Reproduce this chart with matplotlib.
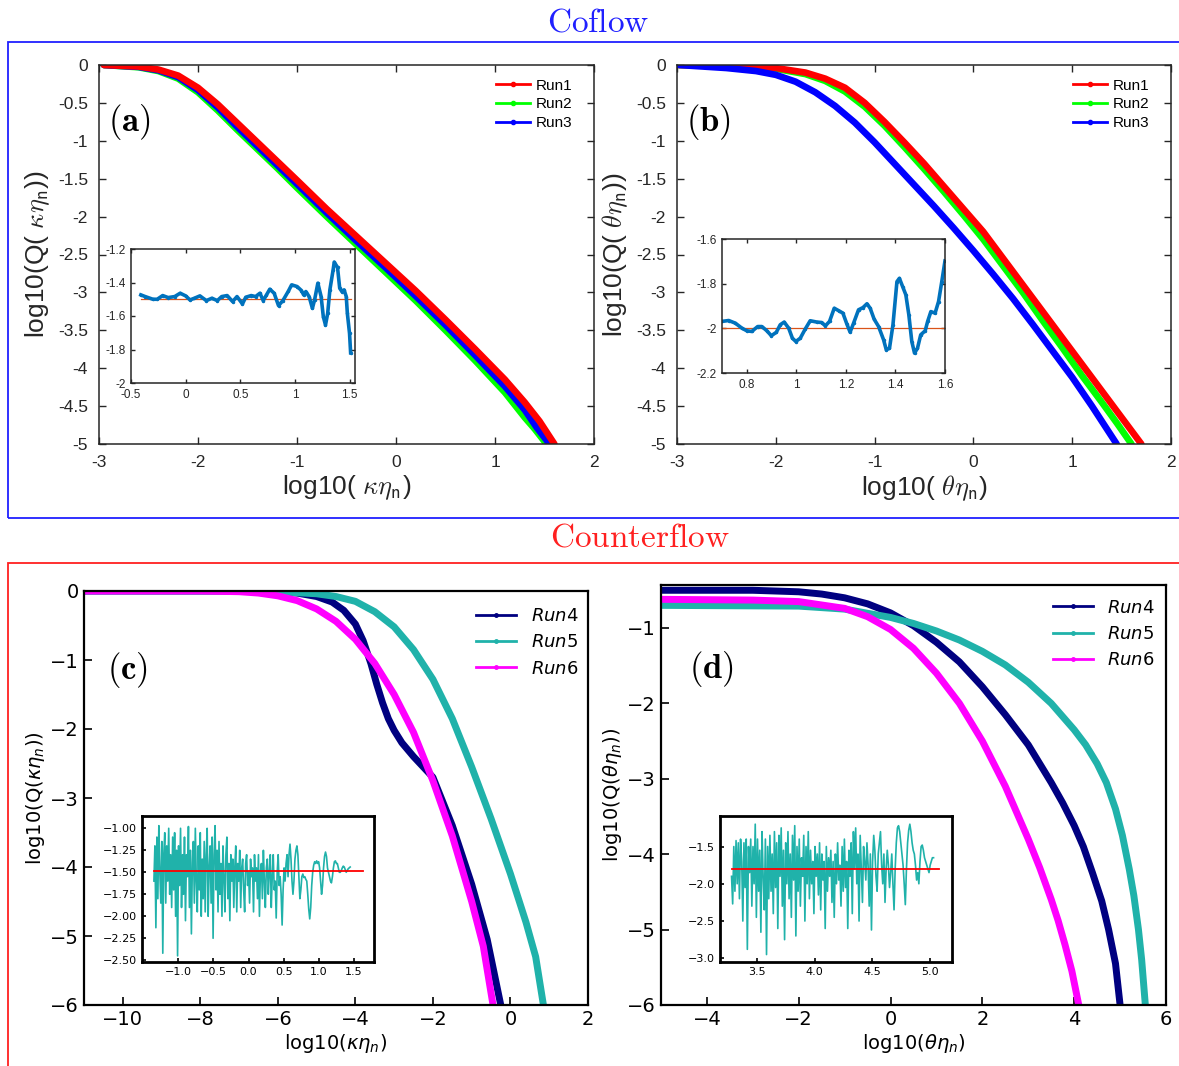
import numpy as np
import matplotlib.pyplot as plt
from matplotlib.patches import Rectangle
from matplotlib.lines import Line2D
from matplotlib.ticker import FuncFormatter

# ---------------- data ----------------
# panel (a): log10(Q(k eta)) vs log10(k eta)
a_x = [-2.95, -2.6, -2.4, -2.2, -2.0, -1.8, -1.6, -1.4, -1.2, -1.0, -0.7, -0.4, -0.1, 0.2, 0.5, 0.8, 1.1, 1.3]
a_run1 = [0, -0.02, -0.06, -0.14, -0.3, -0.52, -0.77, -1.02, -1.27, -1.52, -1.9, -2.26, -2.62, -2.98, -3.36, -3.75, -4.15, -4.45]
a_run2 = [0, -0.03, -0.08, -0.18, -0.36, -0.6, -0.86, -1.11, -1.36, -1.62, -2.0, -2.37, -2.74, -3.11, -3.5, -3.9, -4.32, -4.65]
a_run3 = [0, -0.025, -0.07, -0.16, -0.33, -0.56, -0.82, -1.07, -1.32, -1.57, -1.95, -2.32, -2.68, -3.05, -3.43, -3.83, -4.24, -4.55]
a_end_x = [[1.45, 1.6], [1.4, 1.52], [1.42, 1.55]]
a_end_y = [[-4.7, -5.0], [-4.8, -5.0], [-4.78, -5.0]]

# panel (b): log10(Q(theta eta)) vs log10(theta eta)
b_x12 = [-2.98, -2.5, -2.0, -1.7, -1.5, -1.3, -1.1, -0.9, -0.7, -0.5, -0.3, -0.1, 0.1, 0.3, 0.5, 0.7, 0.9, 1.1, 1.3]
b_run1 = [0, -0.01, -0.04, -0.1, -0.18, -0.3, -0.5, -0.75, -1.02, -1.3, -1.6, -1.9, -2.2, -2.55, -2.9, -3.25, -3.6, -3.95, -4.3]
b_run2 = [0, -0.015, -0.05, -0.12, -0.21, -0.35, -0.55, -0.8, -1.08, -1.37, -1.67, -1.98, -2.3, -2.65, -3.0, -3.37, -3.73, -4.1, -4.45]
b_end1_x, b_end1_y = [1.5, 1.7], [-4.65, -5.0]
b_end2_x, b_end2_y = [1.45, 1.6], [-4.72, -5.0]
b_x3 = [-2.98, -2.5, -2.2, -2.0, -1.8, -1.6, -1.4, -1.2, -1.0, -0.8, -0.6, -0.4, -0.2, 0.0, 0.2, 0.4, 0.6, 0.8, 1.0, 1.2, 1.45]
b_run3 = [0, -0.04, -0.08, -0.13, -0.22, -0.36, -0.54, -0.76, -1.02, -1.3, -1.58, -1.86, -2.15, -2.45, -2.76, -3.08, -3.42, -3.77, -4.12, -4.5, -5.0]

# inset (a)
ia_x = [-0.41, -0.37, -0.30, -0.26, -0.21, -0.16, -0.10, -0.05, 0.0, 0.04, 0.08, 0.13, 0.19, 0.24, 0.29, 0.33,
        0.38, 0.43, 0.47, 0.52, 0.55, 0.60, 0.64, 0.68, 0.71, 0.74, 0.77, 0.81, 0.85, 0.89, 0.94, 0.97, 1.02,
        1.06, 1.08, 1.10, 1.13, 1.16, 1.18, 1.21, 1.24, 1.26, 1.28, 1.30, 1.32, 1.35, 1.36, 1.39, 1.41, 1.43,
        1.45, 1.47, 1.48, 1.50, 1.51]
ia_y = [-1.474, -1.484, -1.50, -1.50, -1.478, -1.49, -1.484, -1.464, -1.48, -1.504, -1.494, -1.48, -1.508,
        -1.494, -1.508, -1.484, -1.478, -1.514, -1.484, -1.528, -1.488, -1.478, -1.484, -1.464, -1.508, -1.474,
        -1.44, -1.464, -1.538, -1.508, -1.452, -1.414, -1.424, -1.448, -1.474, -1.454, -1.484, -1.554, -1.504,
        -1.404, -1.484, -1.604, -1.654, -1.584, -1.444, -1.324, -1.278, -1.31, -1.434, -1.454, -1.444, -1.484,
        -1.584, -1.704, -1.82]
ia_ref = -1.5

# inset (b)
ib_x = [0.70, 0.727, 0.754, 0.78, 0.80, 0.82, 0.844, 0.861, 0.881, 0.899, 0.919, 0.935, 0.951, 0.969, 0.984,
        0.998, 1.016, 1.036, 1.056, 1.083, 1.103, 1.117, 1.134, 1.153, 1.171, 1.188, 1.204, 1.217, 1.231, 1.251,
        1.269, 1.285, 1.298, 1.314, 1.332, 1.352, 1.363, 1.376, 1.39, 1.406, 1.416, 1.429, 1.442, 1.454, 1.466,
        1.477, 1.489, 1.502, 1.52, 1.53, 1.543, 1.56, 1.574, 1.587, 1.60]
ib_y = [-1.969, -1.965, -1.977, -1.999, -2.011, -2.014, -1.992, -1.992, -2.011, -2.033, -2.018, -1.984, -1.972,
        -1.999, -2.044, -2.059, -2.044, -2.003, -1.966, -1.972, -1.974, -1.989, -1.969, -1.910, -1.921, -1.932,
        -1.981, -2.017, -1.977, -1.917, -1.907, -1.890, -1.910, -1.959, -1.992, -2.051, -2.096, -2.089, -1.984,
        -1.791, -1.776, -1.813, -1.850, -1.939, -2.059, -2.111, -2.089, -2.029, -2.011, -1.969, -1.925, -1.932,
        -1.880, -1.791, -1.698]
ib_ref = -2.0

# panel (c)
c_x6 = [-11, -8, -7, -6.5, -6, -5.5, -5, -4.5, -4, -3.5, -3, -2.5, -2, -1.5, -1, -0.7, -0.45]
c_run6 = [0, 0, -0.01, -0.03, -0.07, -0.14, -0.26, -0.44, -0.7, -1.05, -1.5, -2.05, -2.75, -3.55, -4.5, -5.15, -6.0]
c_x4 = [-11, -7, -6, -5.5, -5, -4.6, -4.3, -4.0, -3.8, -3.6, -3.45, -3.3, -3.15, -3.0, -2.8, -2.5, -2.0, -1.5, -1.0, -0.6, -0.25]
c_run4 = [0, 0, -0.01, -0.03, -0.08, -0.16, -0.28, -0.48, -0.72, -1.05, -1.35, -1.62, -1.85, -2.02, -2.2, -2.4, -2.7, -3.4, -4.25, -5.05, -6.0]
c_x5 = [-11, -7, -6, -5, -4.5, -4, -3.5, -3, -2.5, -2, -1.5, -1, -0.5, 0, 0.4, 0.65, 0.85]
c_run5 = [0, 0, -0.01, -0.04, -0.08, -0.15, -0.3, -0.52, -0.85, -1.28, -1.85, -2.55, -3.3, -4.1, -4.8, -5.3, -6.0]

# inset (c): Run5 residual, uniform samples between x = -1.35 and 1.45
ic_y = [-1.6, -1.2, -2.13, -1.1, -1.8, -0.97, -1.5, -1.85, -1.15, -2.42,
        -1.3, -1.05, -1.85, -1.2, -1.6, -1.0, -1.75, -1.3, -1.9, -1.1,
        -1.7, -1.05, -2.0, -1.25, -2.45, -1.2, -1.65, -1.0, -1.9, -1.3,
        -1.75, -1.1, -2.05, -1.3, -1.55, -0.98, -1.9, -1.25, -2.2, -1.4,
        -1.15, -1.85, -1.0, -1.6, -1.95, -1.2, -1.7, -1.05, -2.0, -1.35,
        -1.8, -1.15, -1.95, -1.3, -1.0, -2.0, -1.45, -1.2, -1.85, -1.1,
        -2.25, -1.3, -0.97, -1.7, -1.25, -1.95, -1.15, -1.75, -1.4, -2.0,
        -1.2, -1.55, -1.95, -1.3, -1.1, -1.8, -1.4, -2.05, -1.3, -1.6,
        -1.35, -1.9, -1.45, -1.2, -1.95, -1.4, -1.6, -1.25, -1.9, -1.45,
        -1.35, -1.7, -1.95, -1.4, -1.3, -1.65, -1.5, -1.85, -1.35, -1.55,
        -1.45, -1.95, -1.3, -1.6, -1.45, -1.8, -1.3, -2.0, -1.5, -1.4,
        -1.8, -1.25, -1.6, -1.9, -1.45, -1.35, -1.75, -1.5, -1.3, -1.9,
        -1.55, -1.3, -1.7, -1.6, -2.02, -1.5, -1.3, -1.65, -1.55, -1.75,
        -2.1, -1.7, -1.45, -1.6, -1.4, -1.3, -1.55, -1.3, -1.18, -1.35,
        -1.6, -1.75, -1.6, -1.35, -1.25, -1.2, -1.3, -1.55, -1.8, -1.7,
        -1.55, -1.52, -1.56, -1.55, -1.58, -1.6, -1.75, -1.92, -2.03, -1.9,
        -1.65, -1.5, -1.42, -1.38, -1.4, -1.37, -1.4, -1.38, -1.45, -1.6,
        -1.75, -1.65, -1.45, -1.32, -1.27, -1.32, -1.45, -1.5, -1.55, -1.6,
        -1.62, -1.55, -1.45, -1.38, -1.37, -1.4, -1.4, -1.45, -1.5, -1.5,
        -1.48, -1.45, -1.43, -1.44, -1.47, -1.5, -1.48, -1.46, -1.45, -1.44]
ic_range = (-1.35, 1.45)
ic_ref, ic_ref_range = -1.48, (-1.35, 1.63)

# panel (d)
d_x4 = [-5, -3, -2, -1.5, -1, -0.5, 0, 0.5, 1, 1.5, 2, 2.5, 3, 3.5, 3.75, 4, 4.2, 4.4, 4.6, 4.75, 4.9, 5.0]
d_run4 = [-0.5, -0.5, -0.52, -0.55, -0.6, -0.68, -0.8, -0.97, -1.19, -1.45, -1.78, -2.15, -2.55, -3.05, -3.32,
          -3.62, -3.9, -4.25, -4.62, -5.0, -5.45, -6.0]
d_x5 = [-5, -2, -1, 0, 0.5, 1, 1.5, 2, 2.5, 3, 3.5, 4, 4.25, 4.5, 4.7, 4.9, 5.05, 5.2, 5.3, 5.4, 5.47, 5.55]
d_run5 = [-0.7, -0.71, -0.75, -0.86, -0.94, -1.04, -1.16, -1.31, -1.49, -1.72, -2.0, -2.35, -2.55, -2.8, -3.05,
          -3.4, -3.75, -4.2, -4.55, -5.0, -5.4, -6.0]
d_x6 = [-5, -3, -2, -1, -0.5, 0, 0.5, 1, 1.5, 2, 2.5, 3, 3.25, 3.5, 3.65, 3.8, 3.95, 4.1]
d_run6 = [-0.62, -0.63, -0.65, -0.74, -0.85, -1.02, -1.27, -1.6, -2.0, -2.5, -3.1, -3.8, -4.18, -4.6, -4.88,
          -5.2, -5.55, -6.0]

# inset (d): Run5 residual, uniform samples between x = 3.28 and 5.03
id_y = [-1.9, -2.27, -1.5, -2.1, -1.42, -2.0, -1.45, -2.2, -1.4, -1.7,
        -2.5, -1.45, -2.05, -1.4, -2.88, -1.5, -1.85, -1.4, -2.3, -1.5,
        -2.0, -1.2, -2.45, -1.4, -2.1, -1.55, -2.65, -1.3, -1.9, -2.35,
        -1.4, -2.95, -1.5, -2.2, -1.35, -2.1, -1.6, -2.4, -1.3, -2.05,
        -1.45, -2.6, -1.35, -1.9, -1.25, -2.3, -1.55, -2.75, -1.45, -2.0,
        -1.3, -2.2, -1.6, -2.45, -1.35, -1.95, -1.22, -2.7, -1.5, -2.1,
        -1.4, -2.3, -1.65, -1.9, -1.35, -2.5, -1.5, -2.0, -1.3, -2.2,
        -1.55, -2.0, -1.7, -2.4, -1.5, -1.9, -1.6, -2.15, -1.45, -2.35,
        -1.6, -1.95, -1.7, -2.6, -1.5, -2.1, -1.65, -1.9, -1.55, -2.25,
        -1.7, -2.45, -1.6, -2.0, -1.45, -1.95, -1.75, -2.3, -1.5, -2.1,
        -1.4, -2.05, -1.7, -2.6, -1.55, -1.9, -1.45, -2.4, -1.3, -1.8,
        -1.25, -2.0, -1.6, -2.5, -1.35, -1.8, -2.25, -1.5, -1.7, -1.95,
        -1.45, -1.75, -2.3, -1.6, -2.62, -1.7, -1.35, -1.55, -1.9, -2.1,
        -1.6, -1.45, -1.3, -1.75, -2.0, -1.6, -2.25, -1.8, -1.55, -1.75,
        -2.05, -1.85, -1.6, -2.0, -2.35, -1.8, -1.45, -1.25, -1.22, -1.3,
        -1.45, -1.6, -1.75, -2.0, -2.28, -1.8, -1.45, -1.28, -1.2, -1.3,
        -1.45, -1.55, -1.6, -1.75, -1.95, -1.85, -2.0, -1.7, -1.5, -1.48,
        -1.55, -1.65, -1.7, -1.75, -1.8, -1.85, -1.75, -1.7, -1.65, -1.65]
id_range = (3.28, 5.03)
id_ref, id_ref_range = -1.8, (3.28, 5.08)

# ---------------- figure ----------------
W, H = 1179, 1066
fig = plt.figure(figsize=(W / 100, H / 100), dpi=100)


def px_axes(l, t, r, b):
    return fig.add_axes([l / W, 1 - b / H, (r - l) / W, (b - t) / H])


hyph = FuncFormatter(lambda v, p: '%g' % round(v, 6))
mat_font = ['Liberation Sans', 'DejaVu Sans']
grey = '#262626'


def matlab_style(ax, fs, pad=6):
    for s in ax.spines.values():
        s.set_color(grey)
        s.set_linewidth(1.1)
    ax.tick_params(direction='in', top=True, right=True, length=5, width=1.0, pad=pad,
                   colors=grey, labelsize=fs, labelcolor=grey)
    ax.xaxis.set_major_formatter(hyph)
    ax.yaxis.set_major_formatter(hyph)
    for t in ax.get_xticklabels() + ax.get_yticklabels():
        t.set_family(mat_font)


# frames and section titles
fig.add_artist(Rectangle((8 / W, 1 - 518 / H), 1.0, (518 - 42) / H, transform=fig.transFigure,
                         fill=False, edgecolor='#2020ff', lw=1.3))
fig.add_artist(Rectangle((8 / W, -0.02), 1.0, (1066 - 563) / H + 0.02, transform=fig.transFigure,
                         fill=False, edgecolor='#ff2020', lw=1.3))
fig.text(598 / W, 1 - 22 / H, r'$\mathrm{Coflow}$', color='#2020ff', fontsize=24,
         ha='center', va='center', math_fontfamily='cm')
fig.text(640 / W, 1 - 537 / H, r'$\mathrm{Counterflow}$', color='#ff2020', fontsize=24,
         ha='center', va='center', math_fontfamily='cm')

# ----- (a) -----
ax = px_axes(99, 65, 594, 444)
for xs, ys, ex, ey, c in [(a_x, a_run2, a_end_x[1], a_end_y[1], '#00ff00'),
                          (a_x, a_run3, a_end_x[2], a_end_y[2], '#0000ff'),
                          (a_x, a_run1, a_end_x[0], a_end_y[0], '#ff0000')]:
    ax.plot(list(xs) + ex, list(ys) + ey, color=c, lw=4.8, solid_capstyle='round', solid_joinstyle='round')
ax.set_xlim(-3, 2)
ax.set_ylim(-5, 0)
ax.set_xticks(np.arange(-3, 2.1, 1))
ax.set_yticks(np.arange(-5, 0.1, 0.5))
matlab_style(ax, 12.5, pad=8)
ax.set_xlabel(r'log10( $\kappa\eta_{\mathsf{n}}$)', fontsize=19, family=mat_font,
              math_fontfamily='cm', color=grey, labelpad=2)
ax.set_ylabel(r'log10(Q( $\kappa\eta_{\mathsf{n}}$))', fontsize=19, family=mat_font,
              math_fontfamily='cm', color=grey, labelpad=4)
ax.text(0.018, 0.85, r'$\mathbf{(a)}$', transform=ax.transAxes, fontsize=25, va='center',
        math_fontfamily='cm')
hs = [Line2D([], [], color=c, lw=2, marker='.', ms=6) for c in ['#ff0000', '#00ff00', '#0000ff']]
ax.legend(hs, ['Run1', 'Run2', 'Run3'], loc='upper right', frameon=False,
          prop={'family': mat_font, 'size': 11}, handlelength=2.2, labelspacing=0.3,
          handletextpad=0.4, bbox_to_anchor=(0.984, 1.0))

ins = px_axes(131, 249, 355, 383)
ins.plot([ia_x[0], ia_x[-1]], [ia_ref, ia_ref], color='#d95319', lw=0.9)
ins.plot(ia_x, ia_y, color='#0072bd', lw=2.6, marker='.', ms=3)
ins.set_xlim(-0.5, 1.55)
ins.set_ylim(-2, -1.2)
ins.set_xticks([-0.5, 0, 0.5, 1, 1.5])
ins.set_yticks([-2, -1.8, -1.6, -1.4, -1.2])
matlab_style(ins, 8.5, pad=4)
ins.tick_params(length=3)

# ----- (b) -----
ax = px_axes(677, 65, 1171, 444)
ax.plot(b_x12 + b_end2_x, b_run2 + b_end2_y, color='#00ff00', lw=4.8, solid_capstyle='round', solid_joinstyle='round')
ax.plot(b_x12 + b_end1_x, b_run1 + b_end1_y, color='#ff0000', lw=4.8, solid_capstyle='round', solid_joinstyle='round')
ax.plot(b_x3, b_run3, color='#0000ff', lw=4.8, solid_capstyle='round', solid_joinstyle='round')
ax.set_xlim(-3, 2)
ax.set_ylim(-5, 0)
ax.set_xticks(np.arange(-3, 2.1, 1))
ax.set_yticks(np.arange(-5, 0.1, 0.5))
matlab_style(ax, 12.5, pad=8)
ax.set_xlabel(r'log10( $\theta\eta_{\mathsf{n}}$)', fontsize=19, family=mat_font,
              math_fontfamily='cm', color=grey, labelpad=2)
ax.set_ylabel(r'log10(Q( $\theta\eta_{\mathsf{n}}$))', fontsize=19, family=mat_font,
              math_fontfamily='cm', color=grey, labelpad=4)
ax.text(0.018, 0.85, r'$\mathbf{(b)}$', transform=ax.transAxes, fontsize=25, va='center',
        math_fontfamily='cm')
ax.legend(hs, ['Run1', 'Run2', 'Run3'], loc='upper right', frameon=False,
          prop={'family': mat_font, 'size': 11}, handlelength=2.2, labelspacing=0.3,
          handletextpad=0.4, bbox_to_anchor=(0.984, 1.0))

ins = px_axes(722, 239, 945, 373)
ins.plot([0.7, 1.6], [ib_ref, ib_ref], color='#d95319', lw=0.9)
ins.plot(ib_x, ib_y, color='#0072bd', lw=2.6, marker='.', ms=3)
ins.set_xlim(0.7, 1.6)
ins.set_ylim(-2.2, -1.6)
ins.set_xticks([0.8, 1, 1.2, 1.4, 1.6])
ins.set_yticks([-2.2, -2, -1.8, -1.6])
matlab_style(ins, 8.5, pad=4)
ins.tick_params(length=3)

# ----- (c) -----
cols = {'Run4': '#000080', 'Run5': '#20b2aa', 'Run6': '#ff00ff'}
ax = px_axes(84, 591, 588, 1005)
ax.plot(c_x4, c_run4, color=cols['Run4'], lw=5, solid_joinstyle='round')
ax.plot(c_x5, c_run5, color=cols['Run5'], lw=5, solid_joinstyle='round')
ax.plot(c_x6, c_run6, color=cols['Run6'], lw=5, solid_joinstyle='round')
ax.set_xlim(-11, 2)
ax.set_ylim(-6, 0)
ax.set_xticks(np.arange(-10, 2.1, 2))
ax.set_yticks(np.arange(-6, 0.1, 1))
for s in ax.spines.values():
    s.set_linewidth(1.6)
ax.tick_params(direction='in', length=6, width=1.2, labelsize=14)
ax.set_xlabel(r'log10($\kappa\eta_n$)', fontsize=14, labelpad=2)
ax.set_ylabel(r'log10(Q($\kappa\eta_n$))', fontsize=14, labelpad=2)
ax.text(0.045, 0.81, r'$\mathbf{(c)}$', transform=ax.transAxes, fontsize=25, va='center',
        math_fontfamily='cm')
hs2 = [Line2D([], [], color=c, lw=2, marker='.', ms=5) for c in cols.values()]
ax.legend(hs2, ['$Run4$', '$Run5$', '$Run6$'], loc='upper right', frameon=False, fontsize=13,
          handlelength=2.2, labelspacing=0.45, bbox_to_anchor=(1.013, 1.0))

ins = px_axes(142, 816, 374, 962)
ins.plot(np.linspace(ic_range[0], ic_range[1], len(ic_y)), ic_y, color=cols['Run5'], lw=1.2)
ins.plot(ic_ref_range, [ic_ref, ic_ref], color='#ff0000', lw=1.3)
ins.set_xlim(-1.52, 1.79)
ins.set_ylim(-2.52, -0.86)
ins.set_xticks([-1.0, -0.5, 0.0, 0.5, 1.0, 1.5])
ins.set_yticks([-1.0, -1.25, -1.5, -1.75, -2.0, -2.25, -2.5])
ins.yaxis.set_major_formatter(FuncFormatter(lambda v, p: ('%.2f' % v).replace('-', '\u2212')))
ins.xaxis.set_major_formatter(FuncFormatter(lambda v, p: ('%.1f' % v).replace('-', '\u2212')))
for s in ins.spines.values():
    s.set_linewidth(2)
ins.tick_params(direction='in', length=3, width=1.2, labelsize=8)

# ----- (d) -----
ax = px_axes(661, 585, 1166, 1005)
ax.plot(d_x4, d_run4, color=cols['Run4'], lw=5, solid_joinstyle='round')
ax.plot(d_x5, d_run5, color=cols['Run5'], lw=5, solid_joinstyle='round')
ax.plot(d_x6, d_run6, color=cols['Run6'], lw=5, solid_joinstyle='round')
ax.set_xlim(-5, 6)
ax.set_ylim(-6, -0.43)
ax.set_xticks(np.arange(-4, 6.1, 2))
ax.set_yticks(np.arange(-6, -0.9, 1))
for s in ax.spines.values():
    s.set_linewidth(1.6)
ax.tick_params(direction='in', length=6, width=1.2, labelsize=14)
ax.set_xlabel(r'log10($\theta\eta_n$)', fontsize=14, labelpad=2)
ax.set_ylabel(r'log10(Q($\theta\eta_n$))', fontsize=14, labelpad=2)
ax.text(0.055, 0.80, r'$\mathbf{(d)}$', transform=ax.transAxes, fontsize=25, va='center',
        math_fontfamily='cm')
ax.legend(hs2, ['$Run4$', '$Run5$', '$Run6$'], loc='upper right', frameon=False, fontsize=13,
          handlelength=2.2, labelspacing=0.45, bbox_to_anchor=(1.01, 1.006))

ins = px_axes(720, 816, 952, 962)
ins.plot(np.linspace(id_range[0], id_range[1], len(id_y)), id_y, color=cols['Run5'], lw=1.2)
ins.plot(id_ref_range, [id_ref, id_ref], color='#ff0000', lw=1.3)
ins.set_xlim(3.18, 5.19)
ins.set_ylim(-3.05, -1.09)
ins.set_xticks([3.5, 4.0, 4.5, 5.0])
ins.set_yticks([-1.5, -2.0, -2.5, -3.0])
ins.yaxis.set_major_formatter(FuncFormatter(lambda v, p: ('%.1f' % v).replace('-', '\u2212')))
ins.xaxis.set_major_formatter(FuncFormatter(lambda v, p: '%.1f' % v))
for s in ins.spines.values():
    s.set_linewidth(2)
ins.tick_params(direction='in', length=3, width=1.2, labelsize=8)

fig.savefig('out.png', dpi=100)
